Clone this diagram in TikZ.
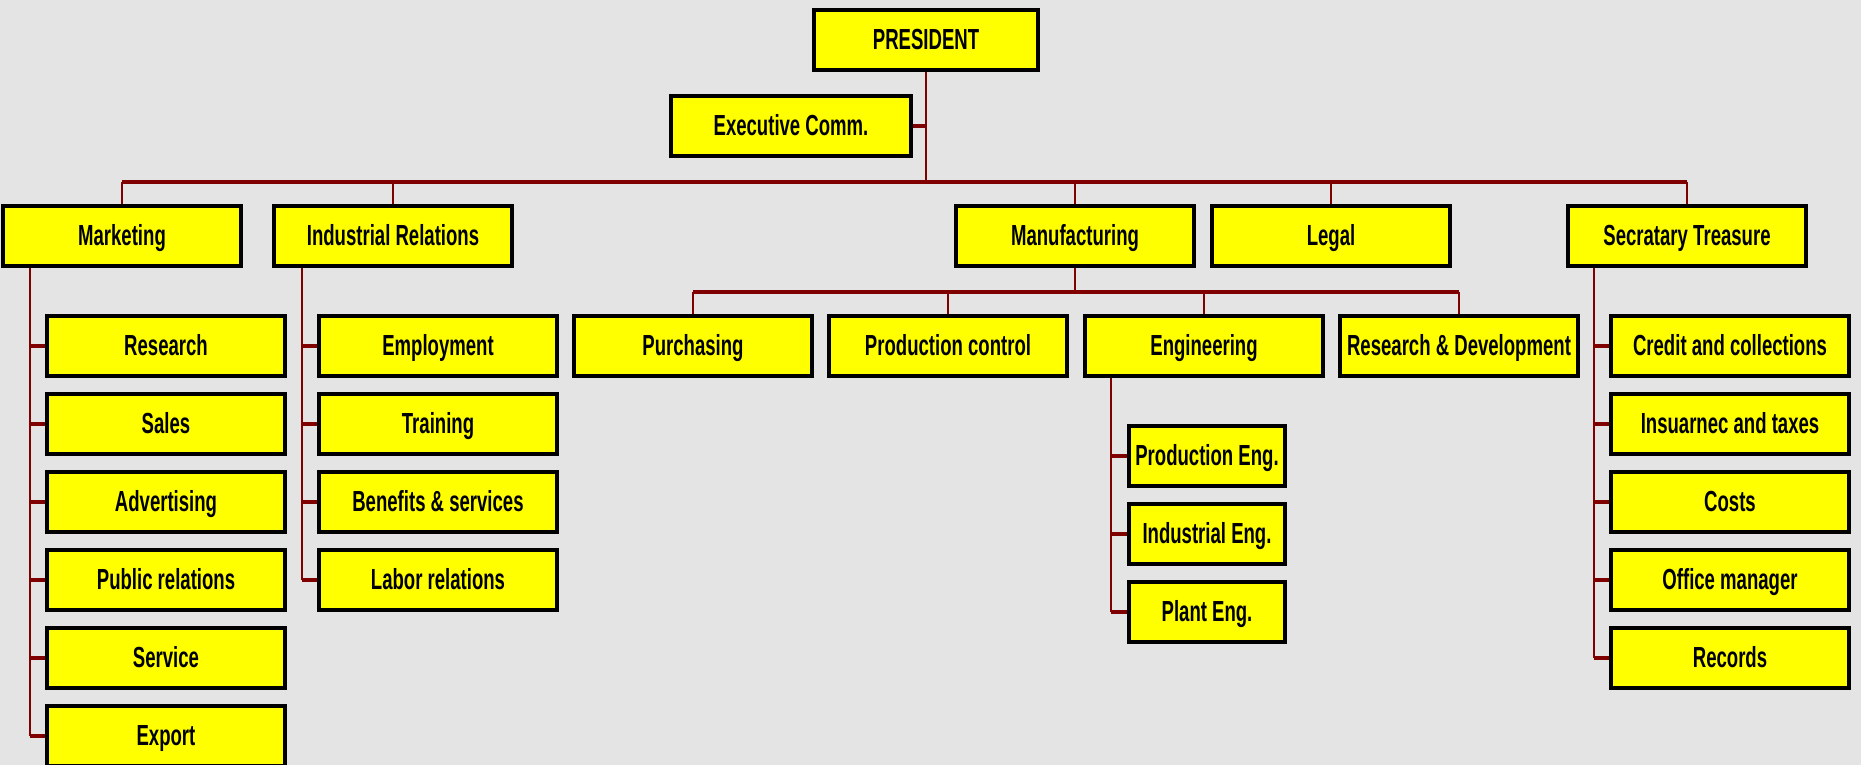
\documentclass[tikz,border=0pt]{standalone}
\usepackage{fontspec}
\newfontfamily\chartfont{Liberation Sans}[FakeStretch=0.64]
\usepackage{xcolor}
\usepackage{tikz}
\usetikzlibrary{calc}

\definecolor{boxyellow}{HTML}{FFFF00}
\definecolor{linkred}{HTML}{800000}
\definecolor{paper}{HTML}{E4E4E4}

\begin{document}
\begin{tikzpicture}[x=0.01cm, y=-0.01cm,
    unit/.style={draw=black, line width=0.95pt, fill=boxyellow, minimum width=2.38cm,
        minimum height=0.6cm, inner sep=0pt, text height=0.21cm, text depth=0.02cm,
        font=\chartfont\bfseries\fontsize{8.25pt}{10pt}\selectfont},
    small/.style={unit, minimum width=1.56cm},
    link/.style={draw=linkred, line width=0.6pt},
    bus/.style={draw=linkred, line width=1pt},
    stub/.style={draw=linkred, line width=1.3pt}]
    % Background
    \fill[paper] (0,0) rectangle (1861,765);
    \useasboundingbox (0,0) rectangle (1861,765);

    % Top
    \node[unit, minimum width=2.24cm] (pres) at (926,40) {PRESIDENT};
    \node[unit, minimum width=2.4cm] (exec) at (791,126) {Executive Comm.};

    % Departments
    \node[unit] (mkt)   at (122,236)  {Marketing};
    \node[unit] (ir)    at (393,236)  {Industrial Relations};
    \node[unit] (mfg)   at (1075,236) {Manufacturing};
    \node[unit] (legal) at (1331,236) {Legal};
    \node[unit] (sec)   at (1687,236) {Secratary Treasure};

    % Manufacturing units
    \node[unit] (purch)   at (693,346)  {Purchasing};
    \node[unit] (prodctl) at (948,346)  {Production control};
    \node[unit] (eng)     at (1204,346) {Engineering};
    \node[unit] (rnd)     at (1459,346) {Research \& Development};

    \node[small] (prodeng)  at (1207,456) {Production Eng.};
    \node[small] (indeng)   at (1207,534) {Industrial Eng.};
    \node[small] (planteng) at (1207,612) {Plant Eng.};

    % Marketing units
    \node[unit] (res)    at (166,346) {Research};
    \node[unit] (sales)  at (166,424) {Sales};
    \node[unit] (adv)    at (166,502) {Advertising};
    \node[unit] (pr)     at (166,580) {Public relations};
    \node[unit] (serv)   at (166,658) {Service};
    \node[unit] (export) at (166,736) {Export};

    % Industrial relations units
    \node[unit] (empl)  at (438,346) {Employment};
    \node[unit] (train) at (438,424) {Training};
    \node[unit] (benef) at (438,502) {Benefits \& services};
    \node[unit] (labor) at (438,580) {Labor relations};

    % Treasury units
    \node[unit] (credit) at (1730,346) {Credit and collections};
    \node[unit] (insur)  at (1730,424) {Insuarnec and taxes};
    \node[unit] (costs)  at (1730,502) {Costs};
    \node[unit] (office) at (1730,580) {Office manager};
    \node[unit] (rec)    at (1730,658) {Records};

    % Main bus
    \coordinate (bus) at (926,182);
    \draw[link] (pres.south) -- (bus);
    \draw[stub] (exec.east) -- (exec.east -| bus);
    \draw[bus] (mkt.north |- bus) -- (sec.north |- bus);
    \foreach \d in {mkt,ir,mfg,legal,sec}
        \draw[link] (\d.north) -- (\d.north |- bus);

    % Manufacturing bus
    \coordinate (mbus) at (1075,292);
    \draw[link] (mfg.south) -- (mbus);
    \draw[bus] (purch.north |- mbus) -- (rnd.north |- mbus);
    \foreach \d in {purch,prodctl,eng,rnd}
        \draw[link] (\d.north) -- (\d.north |- mbus);

    % Side spines
    \coordinate (mspine) at ([xshift=0.29cm]mkt.south west);
    \draw[link] (mspine) -- (mspine |- export.west);
    \foreach \n in {res,sales,adv,pr,serv,export}
        \draw[stub] (\n.west) -- (\n.west -| mspine);

    \coordinate (ispine) at ([xshift=0.3cm]ir.south west);
    \draw[link] (ispine) -- (ispine |- labor.west);
    \foreach \n in {empl,train,benef,labor}
        \draw[stub] (\n.west) -- (\n.west -| ispine);

    \coordinate (espine) at ([xshift=0.28cm]eng.south west);
    \draw[link] (espine) -- (espine |- planteng.west);
    \foreach \n in {prodeng,indeng,planteng}
        \draw[stub] (\n.west) -- (\n.west -| espine);

    \coordinate (sspine) at ([xshift=0.28cm]sec.south west);
    \draw[link] (sspine) -- (sspine |- rec.west);
    \foreach \n in {credit,insur,costs,office,rec}
        \draw[stub] (\n.west) -- (\n.west -| sspine);
\end{tikzpicture}
\end{document}
